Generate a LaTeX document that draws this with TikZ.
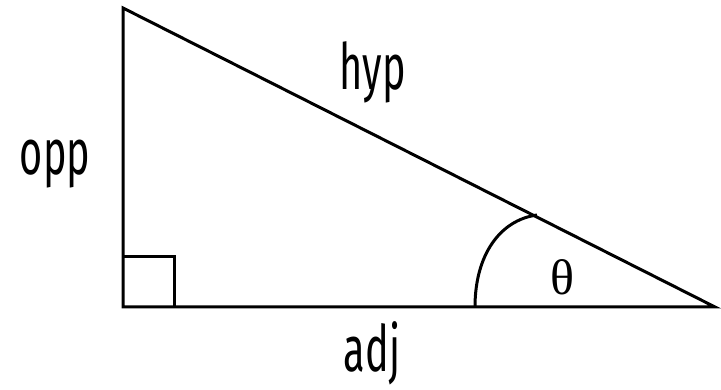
\documentclass[tikz,border=0pt]{standalone}
\usepackage{fontspec}
\setmainfont{Fira Sans}[FakeStretch=0.62]
\newfontfamily\thfont{Liberation Serif}
\begin{document}
\begin{tikzpicture}[x=1pt,y=-1pt,
  edge/.style={line width=3pt, line join=miter},
  lbl/.style={anchor=base, inner sep=0pt, font=\fontsize{64}{70}\selectfont}]
\useasboundingbox (0,0) rectangle (721,390);
\coordinate (T) at (123,8);
\coordinate (B) at (123,307);
\coordinate (R) at (715,307);
\coordinate (A0) at (475,307);
\coordinate (A1) at (537,215);
\draw[edge] (T) -- (B) -- (R) -- cycle;
\draw[line width=3pt] (123,257) -| (174,307);
\draw[line width=3pt] (A0) .. controls (475,255) and (500,220) .. (A1);
\node[lbl] (opp) at (55,175) {opp};
\node[lbl] (hyp) at (373,90) {hyp};
\node[lbl] (adj) at (372,372) {adj};
\node[anchor=base, inner sep=0pt, font=\thfont\fontsize{50}{54}\selectfont] (th) at (562,295) {θ};
\end{tikzpicture}
\end{document}
